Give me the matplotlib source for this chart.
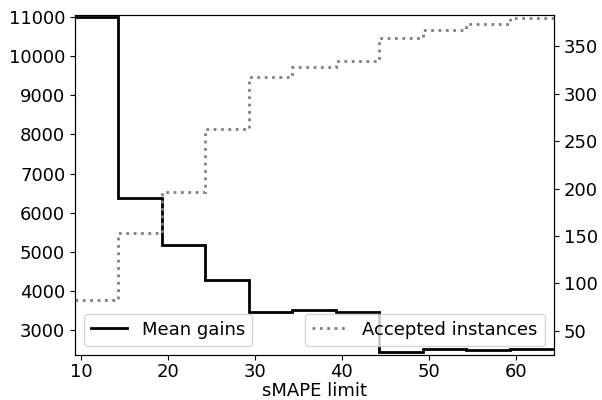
import matplotlib
matplotlib.use("Agg")
import matplotlib.pyplot as plt
import numpy as np

# step edges (sMAPE limit)
edges = [9.3, 14.3, 19.3, 24.3, 29.3, 34.3, 39.3, 44.3, 49.3, 54.3, 59.3, 64.4]
mean_gains = [11000, 6370, 5165, 4280, 3455, 3520, 3455, 2445, 2520, 2490, 2520]
accepted = [82, 153, 196, 263, 318, 328, 335, 359, 367, 374, 380]

plt.rcParams['font.size'] = 13
fig = plt.figure(figsize=(6.02, 4.0), dpi=100)
ax1 = fig.add_subplot(111)
fig.subplots_adjust(left=75/602, right=554/602, top=1-14.7/400, bottom=1-355/400)

ax1.stairs(mean_gains, edges, color='black', linewidth=2, label='Mean gains', baseline=None)
ax1.set_xlim(edges[0], edges[-1])
ax1.set_ylim(2360, 11060)
ax1.set_xlabel('sMAPE limit', labelpad=1)
ax1.set_xticks([10, 20, 30, 40, 50, 60])
ax1.set_yticks(list(range(3000, 11001, 1000)))
ax1.tick_params(axis='x', pad=2)

ax2 = ax1.twinx()
ax2.stairs(accepted, edges, color='gray', linewidth=2, linestyle=':', label='Accepted instances', baseline=None)
ax2.set_ylim(24.4, 383.4)
ax2.set_yticks([50, 100, 150, 200, 250, 300, 350])

from matplotlib.lines import Line2D
h1 = [Line2D([], [], color='black', linewidth=2)]
h2 = [Line2D([], [], color='gray', linewidth=2, linestyle=':')]
ax1.legend(h1, ['Mean gains'], loc='lower left')
ax2.legend(h2, ['Accepted instances'], loc='lower right')

fig.savefig('out.png', dpi=100)
